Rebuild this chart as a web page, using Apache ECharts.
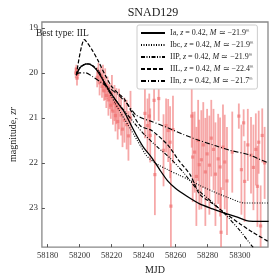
<!DOCTYPE html>
<html><head><meta charset="utf-8">
<script src="https://cdn.jsdelivr.net/npm/echarts@6/dist/echarts.min.js"></script>
<style>html,body{margin:0;padding:0;background:#fff}#c{width:280px;height:280px}</style>
</head><body><div id="c"></div>
<script>
// Observations (MJD, zr magnitude, error)
const obsMjd = [58197.6,58198.0,58198.4,58198.9,58211.0,58211.8,58212.5,58213.3,58214.0,58214.6,58215.3,58216.0,58216.7,58217.4,58218.0,58218.9,58219.5,58220.2,58220.8,58221.8,58222.4,58223.0,58223.8,58224.6,58225.9,58226.8,58228.0,58229.4,58230.5,58231.8,58240.8,58242.4,58243.5,58244.1,58246.5,58247.0,58249.4,58252.4,58254.0,58255.3,58256.5,58257.0,58258.3,58270.0,58270.6,58271.8,58272.9,58274.0,58274.7,58276.0,58277.2,58278.5,58279.6,58281.0,58282.2,58283.6,58284.8,58286.5,58287.7,58288.3,58289.5,58290.6,58292.0,58295.3,58299.4,58301.0,58302.4,58303.0,58305.0,58307.0,58308.5,58310.0,58311.0,58311.8,58313.0,58314.0,58315.5];
const obsMag = [20.00,19.92,20.12,20.03,20.10,19.98,20.22,20.05,20.30,20.12,20.40,20.25,20.50,20.33,20.60,20.52,20.72,20.45,20.85,20.67,20.95,20.74,21.08,20.80,20.94,21.25,21.05,21.15,21.40,21.00,20.90,21.17,20.96,21.39,20.61,22.26,20.57,21.72,21.17,21.28,21.54,22.96,21.26,20.96,21.87,21.76,22.30,21.50,22.04,21.93,21.60,22.20,21.80,22.05,21.45,21.70,22.25,21.91,22.09,23.54,21.65,21.98,22.40,21.76,20.96,22.15,21.11,22.41,21.60,21.83,22.10,21.70,22.52,21.54,23.40,21.39,22.00];
const obsErr = [0.12,0.10,0.16,0.10,0.22,0.20,0.28,0.18,0.25,0.30,0.22,0.35,0.28,0.25,0.35,0.28,0.30,0.40,0.30,0.40,0.35,0.40,0.40,0.45,0.45,0.40,0.50,0.55,0.55,0.60,0.55,0.60,0.50,0.60,0.45,0.90,0.50,0.80,0.60,0.70,0.80,0.95,0.75,0.70,1.00,0.90,1.10,0.90,1.00,1.10,0.95,1.20,1.00,1.10,0.85,0.90,1.15,1.00,1.10,1.00,0.95,1.05,1.20,0.90,0.28,1.00,0.30,0.90,0.80,0.85,0.95,0.80,0.90,0.70,0.90,0.60,0.80];

// Model curves [MJD, mag]
const curveIa = [[58198,20.05],[58200,19.90],[58202,19.83],[58205,19.80],[58208,19.84],[58211,19.95],[58214,20.12],[58217,20.30],[58220,20.47],[58224,20.68],[58228,20.87],[58232,21.15],[58236,21.42],[58240,21.66],[58245,21.88],[58250,22.15],[58255,22.40],[58260,22.57],[58267,22.74],[58275,22.91],[58283,23.02],[58290,23.11],[58298,23.20],[58305,23.29],[58310,23.30],[58318,23.30]];
const curveIbc = [[58198,20.05],[58200,19.88],[58203,19.81],[58206,19.80],[58209,19.86],[58212,19.98],[58215,20.18],[58218,20.40],[58222,20.66],[58225,20.85],[58232,21.26],[58238,21.62],[58242,21.85],[58248,22.02],[58255,22.15],[58262,22.27],[58268,22.37],[58275,22.50],[58283,22.63],[58292,22.76],[58303,22.89],[58318,22.89]];
const curveIIP = [[58198,20.05],[58200,19.90],[58203,19.82],[58206,19.80],[58209,19.86],[58212,19.96],[58216,20.28],[58222,20.58],[58229,20.89],[58235,21.15],[58241,21.39],[58249,21.66],[58257,21.91],[58265,22.22],[58273,22.57],[58282,22.85],[58290.6,23.13],[58300,23.50],[58308,23.86],[58318,24.25]];
const curveIIL = [[58198,20.05],[58203,19.26],[58208,19.50],[58212,19.76],[58216,20.05],[58220,20.30],[58224,20.45],[58228,20.58],[58233,20.90],[58238,21.18],[58245,21.28],[58255,21.60],[58262,21.95],[58269,22.26],[58275,22.70],[58283,22.90],[58290.6,23.11],[58300,23.35],[58308,23.54],[58318,23.75]];
const curveIIn = [[58198,20.02],[58200,20.00],[58204,20.00],[58208,20.08],[58213,20.20],[58219,20.35],[58224,20.48],[58230,20.70],[58235,20.93],[58240,21.02],[58245,21.08],[58255,21.22],[58265,21.37],[58273,21.48],[58285,21.62],[58294,21.72],[58306,21.82],[58311,21.90],[58318,22.00]];

const seriesNames = ['Ia','Ibc','IIP','IIL','IIn'];
const seriesM = ['−21.9','−21.9','−21.9','−22.4','−21.7'];
const redshift = '0.42';
const xTicks = [58180,58200,58220,58240,58260,58280,58300];
const yTicks = [19,20,21,22,23];

const serif = 'Liberation Serif';
const errData = obsMjd.map((m,i)=>[m, obsMag[i]-obsErr[i], obsMag[i]+obsErr[i]]);
const ptData = obsMjd.map((m,i)=>[m, obsMag[i]]);

const curves = [curveIa, curveIbc, curveIIP, curveIIL, curveIIn];
const dashes = ['solid',[1,1.5],[4,1.5,1,1.5,1,1.5],[4,2],[5,2,1,2]];
const widths = [1.3,1.1,1.1,1.2,1.1];

const lineSeries = curves.map((c,i)=>({
  name: seriesNames[i], type:'line', data:c, symbol:'none', smooth:0.25,
  lineStyle:{color:'#000', width:widths[i], type:dashes[i]},
  itemStyle:{color:'#000'}, z:5, clip:true
}));

const chart = echarts.init(document.getElementById('c'), null, {renderer:'canvas'});
chart.setOption({
  animation:false,
  title:{text:'SNAD129', left:148, textAlign:'center', top:2,
    textStyle:{fontFamily:serif, fontSize:12, fontWeight:'normal', color:'#222'}},
  grid:{left:28, right:12, top:22, bottom:28, show:true, borderColor:'#888', borderWidth:1.3, backgroundColor:'transparent'},
  xAxis:{type:'value', min:58176.5, max:58317.6, name:'MJD', nameLocation:'middle', nameGap:17,
    nameTextStyle:{fontFamily:serif, fontSize:10, color:'#222'},
    axisLine:{show:false}, splitLine:{show:false},
    axisTick:{inside:true, length:3, lineStyle:{color:'#555'}, customValues:xTicks},
    axisLabel:{fontFamily:serif, fontSize:8.5, color:'#333', margin:4, customValues:xTicks, formatter:v=>String(v)}},
  yAxis:{type:'value', inverse:true, min:18.87, max:23.87,
    name:'{n|magnitude, }{i|zr}', nameLocation:'middle', nameGap:17,
    nameTextStyle:{fontFamily:serif, fontSize:10, color:'#222',
      rich:{n:{fontFamily:serif, fontSize:10, color:'#222'}, i:{fontFamily:serif, fontSize:10, fontStyle:'italic', color:'#222'}}},
    axisLine:{show:false}, splitLine:{show:false},
    axisTick:{inside:true, length:3, lineStyle:{color:'#555'}, customValues:yTicks},
    axisLabel:{fontFamily:serif, fontSize:9, color:'#333', margin:4, customValues:yTicks, formatter:v=>String(v)}},
  legend:{data:seriesNames, orient:'vertical', left:137, top:25, itemWidth:24, itemHeight:8, itemGap:4,
    backgroundColor:'#fff', borderColor:'#ccc', borderWidth:1, borderRadius:2, padding:[4,4,4,3],
    itemStyle:{opacity:0},
    formatter:function(name){const i=seriesNames.indexOf(name);return name+', {i|z} = '+redshift+', {i|M} ≃ '+seriesM[i]+'{s|ᵐ}';},
    textStyle:{fontFamily:serif, fontSize:8, color:'#222', padding:[0,0,0,0],
      rich:{i:{fontFamily:serif, fontSize:8, fontStyle:'italic', color:'#222'}, s:{fontFamily:'DejaVu Serif', fontSize:5.5, color:'#222', verticalAlign:'top'}}}},
  graphic:[{type:'text', left:36, top:28, style:{text:'Best type: IIL', fontFamily:serif, fontSize:9.5, fill:'#222'}}],
  series:[
    {type:'custom', name:'err', data:errData, encode:{x:0, y:[1,2]}, clip:true, z:1, silent:true,
      renderItem:function(params, api){
        const a=api.coord([api.value(0), api.value(1)]);
        const b=api.coord([api.value(0), api.value(2)]);
        return {type:'line', shape:{x1:a[0],y1:a[1],x2:b[0],y2:b[1]}, style:{stroke:'rgba(240,110,110,0.6)', lineWidth:1.8}};
      }},
    {type:'scatter', name:'pts', data:ptData, symbol:'rect', symbolSize:3.2, z:2, clip:true,
      itemStyle:{color:'rgba(240,110,110,0.8)'}},
    ...lineSeries
  ]
});
</script></body></html>
